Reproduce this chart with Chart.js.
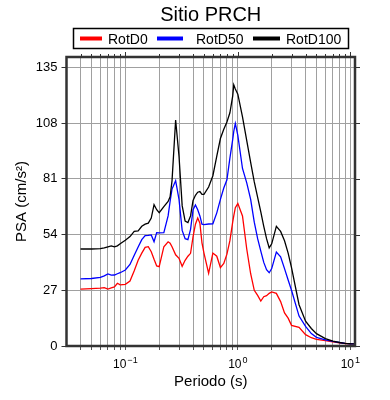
<!DOCTYPE html>
<html><head><meta charset="utf-8">
<script src="https://cdn.jsdelivr.net/npm/chart.js@4/dist/chart.umd.min.js"></script>
<style>html,body{margin:0;padding:0;background:#fff}</style>
</head><body>
<canvas id="c" width="390" height="400"></canvas>
<script>
const periods = [0.04,0.05,0.06,0.065,0.07,0.075,0.08,0.085,0.09,0.1,0.11,0.12,0.13,0.14,0.15,0.16,0.17,0.18,0.19,0.2,0.22,0.24,0.25,0.26,0.28,0.3,0.32,0.34,0.36,0.38,0.4,0.42,0.44,0.46,0.48,0.5,0.55,0.6,0.65,0.7,0.75,0.8,0.85,0.9,0.92,0.95,1.0,1.1,1.2,1.3,1.4,1.5,1.6,1.7,1.8,1.9,2.0,2.2,2.4,2.6,2.8,3.0,3.5,4.0,4.5,5,6,7,8,9,10,11];
const rotD100 = [47,47,47.2,47.5,48,48.5,48,48.5,49.5,51.2,53,55.5,55.8,58,59,59.5,62,68.5,66,64.6,67.5,70,72.3,80,109.5,92,68,60.5,59.8,63,70.5,73,74.5,74.8,73.5,73.5,77,82.5,92,100.5,105,108.5,113,121,126.5,124.5,122,111,99.5,89,79.5,72,65,58,52,47.5,49.5,58,55.5,51,45,38,20,12,8.5,6,3.6,2.4,1.7,1.3,1.1,1.0];
const rotD50 = [32.5,32.7,33.2,34,34.9,34.3,34.4,35,35.5,36.8,39.5,44,48,51.5,53.5,53.6,53.8,50.5,54.9,54.8,54.9,63,70,76,80.1,71,56,52,51.5,56.5,66,68.3,66,63,59,58.8,59.1,59.2,64.5,71,76.5,80.5,91,100,104,107.8,102,86,79,71,60,52,46,40.5,37,35.5,37.5,45.5,43.2,37.5,32,27,14.5,9.5,6,4.2,3,2.2,1.7,1.3,1.1,1.0];
const rotD0 = [27.6,27.8,28,28.3,27.6,28.1,28.6,30.4,29.6,29.9,31.5,36.5,41.5,45,47.8,48.1,45.7,42,38.8,38.4,48.1,50.5,49.8,48.1,44.2,42.5,38.6,41.5,43.5,44.9,53,59,62,59.5,50,45,35.2,45,43.5,38,40,44.5,51,60,63,67,69,63,47,35,27,24.5,21.8,23.9,24.4,25.5,26.2,25.5,21.5,16,13.5,10,9,5.5,4,3.2,2.6,2,1.5,1.2,1.0,1.0];
const seriesLabels = ['RotD0','RotD50','RotD100'];
const seriesColors = ['#ff0000','#0000ff','#000000'];
const yTickValues = [0,27,54,81,108,135];
const xGridValues = [0.04,0.05,0.06,0.07,0.08,0.09,0.1,0.2,0.3,0.4,0.5,0.6,0.7,0.8,0.9,1,2,3,4,5,6,7,8,9,10];
const xMajorValues = [0.1,1,10];
const xMajorExponents = ['\u22121','0','1'];
const titleText = 'Sitio PRCH';
const xTitle = 'Periodo (s)';
const yTitle = 'PSA (cm/s\u00B2)';

const FONT = '"Liberation Sans", Arial, Helvetica, sans-serif';
Chart.defaults.font.family = FONT;
Chart.defaults.color = '#000';

const seriesValues = [rotD0, rotD50, rotD100];
const datasets = seriesValues.map((vals, i) => ({
  label: seriesLabels[i],
  data: periods.map((p, k) => ({x: p, y: vals[k]})),
  borderColor: seriesColors[i],
  backgroundColor: seriesColors[i],
  borderWidth: 1.3,
  pointRadius: 0,
  tension: 0,
  order: 2 - i
}));

const legendX = [[80,102,108],[157,183,196],[253,280,286]];

const decor = {
  id: 'decor',
  afterDraw(chart) {
    const {ctx, chartArea: a, scales: {x, y}} = chart;
    ctx.save();
    // top & right tick marks
    ctx.strokeStyle = '#333';
    ctx.lineWidth = 1;
    xGridValues.forEach(v => {
      const px = Math.round(x.getPixelForValue(v)) + 0.5;
      const major = xMajorValues.includes(v);
      ctx.beginPath(); ctx.moveTo(px, a.top); ctx.lineTo(px, a.top - (major ? 5 : 3)); ctx.stroke();
    });
    yTickValues.forEach(v => {
      const py = Math.round(y.getPixelForValue(v)) + 0.5;
      ctx.beginPath(); ctx.moveTo(a.right, py); ctx.lineTo(a.right + 5, py); ctx.stroke();
    });
    // frame
    ctx.lineWidth = 2.5;
    ctx.strokeStyle = '#333';
    ctx.strokeRect(a.left, a.top, a.right - a.left, a.bottom - a.top);
    // x tick labels 10^n
    ctx.fillStyle = '#000';
    ctx.textBaseline = 'alphabetic';
    ctx.textAlign = 'left';
    xMajorValues.forEach((v, i) => {
      const px = x.getPixelForValue(v);
      ctx.font = '12px ' + FONT;
      const wb = ctx.measureText('10').width;
      ctx.font = '9px ' + FONT;
      const we = ctx.measureText(xMajorExponents[i]).width;
      const start = px - (wb + we + 1) / 2;
      ctx.font = '12px ' + FONT;
      ctx.fillText('10', start, 367.5);
      ctx.font = '9px ' + FONT;
      ctx.fillText(xMajorExponents[i], start + wb + 1, 362.5);
    });
    // title
    ctx.font = '20px ' + FONT;
    ctx.textAlign = 'center';
    ctx.fillText(titleText, (a.left + a.right) / 2, 21);
    // legend
    ctx.lineWidth = 1.5;
    ctx.strokeStyle = '#000';
    ctx.strokeRect(73.5, 28.5, 275, 20);
    ctx.font = '14px ' + FONT;
    ctx.textAlign = 'left';
    chart.data.datasets.forEach((ds, i) => {
      const [l0, l1, tx] = legendX[i];
      ctx.strokeStyle = ds.borderColor;
      ctx.lineWidth = 4;
      ctx.beginPath(); ctx.moveTo(l0, 38.5); ctx.lineTo(l1, 38.5); ctx.stroke();
      ctx.fillStyle = '#000';
      ctx.fillText(ds.label, tx, 43.5);
    });
    ctx.restore();
  }
};

new Chart(document.getElementById('c'), {
  type: 'line',
  data: {datasets},
  plugins: [decor],
  options: {
    responsive: false,
    animation: false,
    devicePixelRatio: 1,
    layout: {padding: {top: 57, right: 35, left: 0, bottom: 0}},
    plugins: {legend: {display: false}, title: {display: false}, tooltip: {enabled: false}},
    scales: {
      x: {
        type: 'logarithmic',
        min: 0.03, max: 11,
        afterBuildTicks: s => { s.ticks = xGridValues.map(v => ({value: v})); },
        afterFit: s => { s.height = 54; },
        ticks: {display: false},
        grid: {color: '#a0a0a0', lineWidth: 1, drawTicks: true, tickLength: 4, tickColor: '#555'},
        border: {display: false},
        title: {display: true, text: xTitle, font: {size: 15}, color: '#000', padding: {top: 0, bottom: 9}}
      },
      y: {
        type: 'linear',
        min: 0, max: 140,
        afterBuildTicks: s => { s.ticks = yTickValues.map(v => ({value: v})); },
        afterFit: s => { s.width = 66.5; },
        ticks: {font: {size: 13}, color: '#000', padding: 4},
        grid: {color: '#a0a0a0', lineWidth: 1, drawTicks: true, tickLength: 5, tickColor: '#333'},
        border: {display: false},
        title: {display: true, text: yTitle, font: {size: 15}, color: '#000', padding: {top: 13, bottom: 0}}
      }
    }
  }
});
</script>
</body></html>
